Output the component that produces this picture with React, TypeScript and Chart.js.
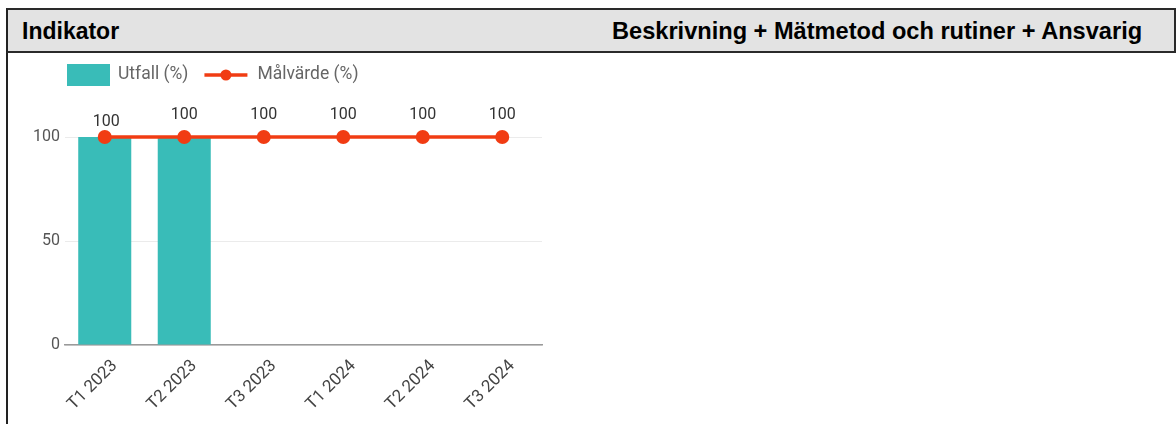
import React, { useEffect, useRef } from "react";
import { Chart, registerables } from "chart.js";

Chart.register(...registerables);

// ---- data ----
const categories = ["T1 2023", "T2 2023", "T3 2023", "T1 2024", "T2 2024", "T3 2024"];
const outcomeValues: (number | null)[] = [100, 100, null, null, null, null];
const targetValues = [100, 100, 100, 100, 100, 100];
const yTickValues = [0, 50, 100];
const seriesNames = ["Utfall (%)", "Målvärde (%)"];
const headerLeft = "Indikator";
const headerRight = "Beskrivning + Mätmetod och rutiner + Ansvarig";

// ---- style ----
const TEAL = "#39bcb8";
const RED = "#f13c13";
const FONT = "Roboto, 'Noto Sans', sans-serif";
const labelLift = [15, 22, 22, 22, 22, 22];

const legendPlugin = {
  id: "customLegend",
  afterDraw(chart: any) {
    const ctx = chart.ctx as CanvasRenderingContext2D;
    ctx.save();
    const y = 21;
    let x = 59;
    ctx.fillStyle = TEAL;
    ctx.fillRect(x, y - 11, 43, 22);
    x += 43 + 8;
    ctx.font = `17.5px ${FONT}`;
    ctx.fillStyle = "#666666";
    ctx.textBaseline = "middle";
    ctx.textAlign = "left";
    ctx.fillText(seriesNames[0], x, y);
    x += ctx.measureText(seriesNames[0]).width + 16;
    ctx.strokeStyle = RED;
    ctx.lineWidth = 3.5;
    ctx.beginPath();
    ctx.moveTo(x, y);
    ctx.lineTo(x + 43, y);
    ctx.stroke();
    ctx.fillStyle = RED;
    ctx.beginPath();
    ctx.arc(x + 21.5, y, 5.5, 0, Math.PI * 2);
    ctx.fill();
    x += 43 + 10;
    ctx.fillStyle = "#666666";
    ctx.fillText(seriesNames[1], x, y);
    ctx.restore();
  },
};

const valueLabelPlugin = {
  id: "valueLabels",
  afterDatasetsDraw(chart: any) {
    const ctx = chart.ctx as CanvasRenderingContext2D;
    const meta = chart.getDatasetMeta(0);
    ctx.save();
    ctx.font = `16px ${FONT}`;
    ctx.fillStyle = "#333333";
    ctx.textAlign = "center";
    ctx.textBaseline = "middle";
    meta.data.forEach((el: any, i: number) => {
      const v = targetValues[i];
      if (v == null) return;
      ctx.fillText(String(v), el.x + (i === 0 ? 1.5 : 0), el.y - labelLift[i]);
    });
    ctx.restore();
  },
};

function ChartBox() {
  const ref = useRef<HTMLCanvasElement | null>(null);
  useEffect(() => {
    if (!ref.current) return;
    const chart = new Chart(ref.current, {
      data: {
        labels: categories,
        datasets: [
          {
            type: "line",
            label: seriesNames[1],
            data: targetValues,
            borderColor: RED,
            backgroundColor: RED,
            borderWidth: 3.5,
            pointRadius: 7,
            pointBackgroundColor: RED,
            pointBorderWidth: 0,
            tension: 0,
            clip: false,
            order: 0,
          } as any,
          {
            type: "bar",
            label: seriesNames[0],
            data: outcomeValues,
            backgroundColor: TEAL,
            borderWidth: 0,
            barPercentage: 0.667,
            categoryPercentage: 1,
            order: 1,
          } as any,
        ],
      },
      options: {
        animation: false,
        responsive: false,
        maintainAspectRatio: false,
        layout: { padding: { top: 83, right: 26, left: 0, bottom: 0 } },
        plugins: {
          legend: { display: false },
          tooltip: { enabled: false },
          title: { display: false },
        },
        scales: {
          x: {
            grid: { display: false },
            border: { display: true, color: "#9a9a9a", width: 1.5 },
            ticks: {
              maxRotation: 45,
              minRotation: 45,
              autoSkip: false,
              padding: 3,
              labelOffset: 10,
              color: "#444444",
              font: { family: FONT, size: 17 },
            },
            afterFit: (s: any) => {
              s.height = 79;
            },
          },
          y: {
            min: 0,
            max: 100,
            grid: { color: "#ebebeb", lineWidth: 1, drawTicks: false },
            border: { display: false },
            ticks: {
              padding: 5,
              color: "#555555",
              font: { family: FONT, size: 16 },
            },
            afterBuildTicks: (s: any) => {
              s.ticks = yTickValues.map((v) => ({ value: v }));
            },
            afterFit: (s: any) => {
              s.width = 57;
            },
          },
        },
      },
      plugins: [legendPlugin, valueLabelPlugin],
    });
    return () => chart.destroy();
  }, []);
  return (
    <canvas
      ref={ref}
      width={560}
      height={370}
      style={{ position: "absolute", left: 8, top: 54, width: 560, height: 370 }}
    />
  );
}

export default function App() {
  return (
    <div style={{ position: "absolute", left: 0, top: 0, width: 1176, height: 424, overflow: "hidden", background: "#ffffff" }}>
      <div
        style={{
          position: "absolute",
          left: 6,
          top: 8,
          width: 1170,
          height: 416,
          borderLeft: "2px solid #222222",
          boxSizing: "border-box",
        }}
      />
      <div
        style={{
          position: "absolute",
          left: 6,
          top: 8,
          width: 1170,
          height: 45,
          background: "#e3e3e3",
          borderTop: "2px solid #2a2a2a",
          borderBottom: "2px solid #2a2a2a",
          borderLeft: "2px solid #222222",
          borderRight: "2px solid #2a2a2a",
          boxSizing: "border-box",
        }}
      />
      <span
        style={{
          position: "absolute",
          left: 22,
          top: 20,
          fontFamily: "'Liberation Sans', Arial, sans-serif",
          fontWeight: "bold",
          fontSize: 23,
          lineHeight: "23px",
          color: "#000000",
          whiteSpace: "nowrap",
        }}
      >
        {headerLeft}
      </span>
      <span
        style={{
          position: "absolute",
          left: 612,
          top: 20,
          fontFamily: "'Liberation Sans', Arial, sans-serif",
          fontWeight: "bold",
          fontSize: 23.6,
          lineHeight: "23px",
          color: "#000000",
          whiteSpace: "nowrap",
        }}
      >
        {headerRight}
      </span>
      <ChartBox />
    </div>
  );
}
